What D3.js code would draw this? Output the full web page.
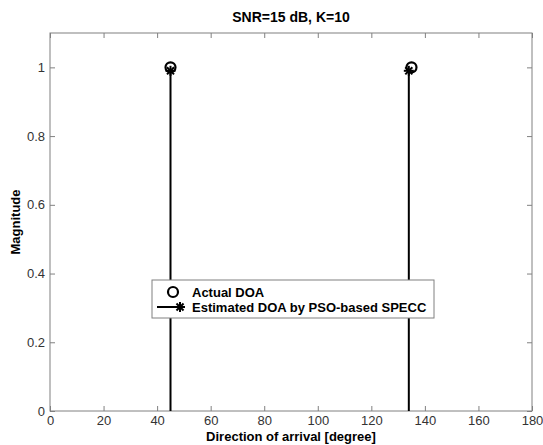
<!DOCTYPE html>
<html lang="en">
<head>
<meta charset="UTF-8">
<title>SNR=15 dB, K=10</title>
<script src="https://cdn.jsdelivr.net/npm/d3@7"></script>
<style>
  body { margin: 0; background: #fff; }
  svg text { font-family: "Liberation Sans", Arial, sans-serif; }
</style>
</head>
<body>
<div id="chart"></div>
<script>
// data
var actualAngles = [45, 135];
var actualMags = [1, 1];
var estAngles = [45, 134];
var estMags = [0.99, 0.99];
var xTicks = [0, 20, 40, 60, 80, 100, 120, 140, 160, 180];
var yTicks = [0, 0.2, 0.4, 0.6, 0.8, 1];
var legendLabels = ["Actual DOA", "Estimated DOA by PSO-based SPECC"];

var W = 543, H = 445;
var margin = { top: 33, right: 11, bottom: 34, left: 50 };
var width = W - margin.left - margin.right,
    height = H - margin.top - margin.bottom;

var svg = d3.select("#chart").append("svg")
    .attr("width", W).attr("height", H);
var g = svg.append("g")
    .attr("transform", "translate(" + margin.left + "," + margin.top + ")");

var x = d3.scaleLinear().domain([0, 180]).range([0, width]);
var y = d3.scaleLinear().domain([0, 1.1]).range([height, 0]);

var axisColor = "#808080";

// axes with inward ticks on all four sides
g.append("g").attr("transform", "translate(0," + height + ")")
    .call(d3.axisBottom(x).tickValues(xTicks).tickSizeInner(-5).tickSizeOuter(0).tickPadding(5));
g.append("g")
    .call(d3.axisTop(x).tickValues(xTicks).tickSizeInner(-5).tickSizeOuter(0).tickFormat(""));
g.append("g")
    .call(d3.axisLeft(y).tickValues(yTicks).tickSizeInner(-5).tickSizeOuter(0).tickPadding(5)
        .tickFormat(function (d) { return d === 0 || d === 1 ? d3.format("d")(d) : d3.format(".1f")(d); }));
g.append("g").attr("transform", "translate(" + width + ",0)")
    .call(d3.axisRight(y).tickValues(yTicks).tickSizeInner(-5).tickSizeOuter(0).tickFormat(""));

g.selectAll(".domain").remove();
g.selectAll(".tick line").attr("stroke", axisColor);
g.selectAll(".tick text").attr("fill", "#333").style("font-size", "13px");

g.append("rect")
    .attr("width", width).attr("height", height)
    .attr("fill", "none").attr("stroke", axisColor).attr("stroke-width", 1);

// star marker (MATLAB '*')
function star(sel, cx, cy, r) {
    var s = sel.append("g").attr("transform", "translate(" + cx + "," + cy + ")")
        .attr("stroke", "#000").attr("stroke-width", 2);
    [0, 45, 90, 135].forEach(function (a) {
        var t = a * Math.PI / 180;
        s.append("line")
            .attr("x1", -r * Math.cos(t)).attr("y1", -r * Math.sin(t))
            .attr("x2", r * Math.cos(t)).attr("y2", r * Math.sin(t));
    });
}

// estimated DOA stems
var est = estAngles.map(function (a, i) { return { a: a, m: estMags[i] }; });
g.selectAll(".stem").data(est).enter().append("line")
    .attr("x1", function (d) { return x(d.a); })
    .attr("x2", function (d) { return x(d.a); })
    .attr("y1", y(0))
    .attr("y2", function (d) { return y(d.m); })
    .attr("stroke", "#000").attr("stroke-width", 2);
est.forEach(function (d) { star(g, x(d.a), y(d.m), 5); });

// actual DOA circles
var act = actualAngles.map(function (a, i) { return { a: a, m: actualMags[i] }; });
g.selectAll(".act").data(act).enter().append("circle")
    .attr("cx", function (d) { return x(d.a); })
    .attr("cy", function (d) { return y(d.m); })
    .attr("r", 5)
    .attr("fill", "none").attr("stroke", "#000").attr("stroke-width", 2.2);

// legend
var lg = svg.append("g").attr("transform", "translate(152,280)");
lg.append("rect").attr("width", 282).attr("height", 38)
    .attr("fill", "#fff").attr("stroke", axisColor).attr("stroke-width", 1);
lg.append("circle").attr("cx", 21).attr("cy", 12).attr("r", 5)
    .attr("fill", "none").attr("stroke", "#000").attr("stroke-width", 2.2);
lg.append("line").attr("x1", 5).attr("x2", 32).attr("y1", 27).attr("y2", 27)
    .attr("stroke", "#000").attr("stroke-width", 2);
star(lg, 28, 27, 5);
lg.selectAll(".lt").data(legendLabels).enter().append("text")
    .attr("x", 40)
    .attr("y", function (d, i) { return 12 + i * 15; })
    .attr("dy", "0.35em")
    .style("font-size", "13px").style("font-weight", "bold")
    .text(function (d) { return d; });

// titles
svg.append("text")
    .attr("x", margin.left + width / 2).attr("y", 22)
    .attr("text-anchor", "middle")
    .style("font-size", "14px").style("font-weight", "bold")
    .text("SNR=15 dB, K=10");
svg.append("text")
    .attr("x", margin.left + width / 2).attr("y", 441)
    .attr("text-anchor", "middle")
    .style("font-size", "13px").style("font-weight", "bold")
    .text("Direction of arrival [degree]");
svg.append("text")
    .attr("transform", "translate(20," + (margin.top + height / 2) + ")rotate(-90)")
    .attr("text-anchor", "middle")
    .style("font-size", "13px").style("font-weight", "bold")
    .text("Magnitude");
</script>
</body>
</html>
